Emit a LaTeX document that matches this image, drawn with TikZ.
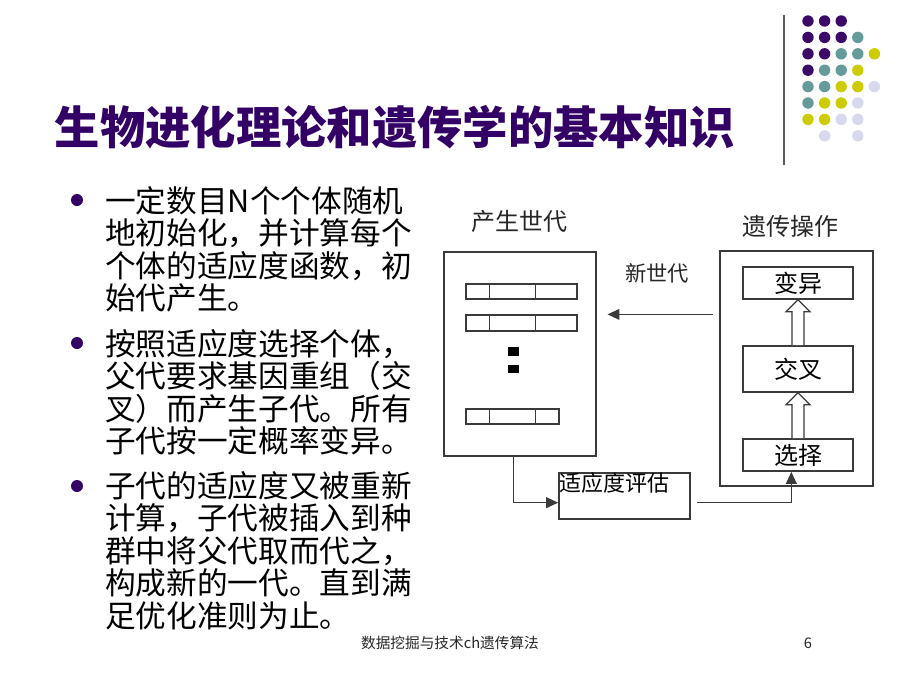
\documentclass[tikz,border=0pt]{standalone}
\usepackage{fontspec}
\setmainfont{Noto Sans CJK SC}
\usetikzlibrary{positioning,arrows.meta,calc}

\definecolor{titlepurple}{HTML}{330066}
\definecolor{dotpurple}{HTML}{3A0A66}
\definecolor{dotteal}{HTML}{669B9B}
\definecolor{dotyellow}{HTML}{CCCC00}
\definecolor{dotlilac}{HTML}{D8D8EE}
\definecolor{linegray}{HTML}{3A3A3A}
\def\px{0.75pt}

\tikzset{
  box/.style={draw=linegray, line width=1.2pt, inner sep=0pt, fill=white},
  genebar/.style={box, line width=0.9pt},
  conn/.style={draw=linegray, line width=1.2pt, -{Triangle[length=9pt,width=8pt]}},
  lbl/.style={inner sep=0pt, text=black!85},
  bodytext/.style={inner sep=0pt, anchor=north west, align=left,
    font=\fontsize{23}{24.4}\selectfont},
}

% hollow arrow between two stacked boxes
\newcommand{\hollowup}[2]{%
  \draw[linegray, line width=0.9pt, fill=white]
    ($(#1.north)+(-6,0)$) -- ($(#2.south)+(-6,12)$) -- ($(#2.south)+(-12,12)$)
    -- (#2.south) -- ($(#2.south)+(12,12)$) -- ($(#2.south)+(6,12)$)
    -- ($(#1.north)+(6,0)$);}

\begin{document}
\begin{tikzpicture}[x=0.75pt, y=-0.75pt]
    \useasboundingbox (0,0) rectangle (900,675);
    \fill[white] (0,0) rectangle (900,675);

    % Decoratie rechtsboven
    \draw[black!65, line width=1.5pt] (784,15) -- (784,165);
    \foreach \c/\r in {0/0,1/0,2/0,0/1,1/1,2/1,0/2,1/2,0/3}
        \fill[dotpurple] (808+16.6*\c, 21+16.4*\r) circle[radius=5.7];
    \foreach \c/\r in {3/1,2/2,3/2,1/3,2/3,0/4,1/4,0/5}
        \fill[dotteal] (808+16.6*\c, 21+16.4*\r) circle[radius=5.7];
    \foreach \c/\r in {4/2,3/3,2/4,3/4,1/5,2/5,0/6,1/6}
        \fill[dotyellow] (808+16.6*\c, 21+16.4*\r) circle[radius=5.7];
    \foreach \c/\r in {4/4,3/5,2/6,3/6,1/7,3/7}
        \fill[dotlilac] (808+16.6*\c, 21+16.4*\r) circle[radius=5.7];

    % Titel
    \node[inner sep=0pt, text=titlepurple, font=\fontsize{34}{36}\selectfont\bfseries]
        (title) at (395,127) {生物进化理论和遗传学的基本知识};

    % Opsomming
    \foreach \y in {200,343,486}
        \fill[titlepurple] (77,\y) circle[radius=6];
    \node[bodytext] (pointa) at (105,186) {一定数目N个个体随机\\地初始化，并计算每个\\个体的适应度函数，初\\始代产生。};
    \node[bodytext] (pointb) at (105,329) {按照适应度选择个体，\\父代要求基因重组（交\\叉）而产生子代。所有\\子代按一定概率变异。};
    \node[bodytext] (pointc) at (105,471) {子代的适应度又被重新\\计算，子代被插入到种\\群中将父代取而代之，\\构成新的一代。直到满\\足优化准则为止。};

    % Populatie
    \node[lbl, font=\fontsize{18}{20}\selectfont] (poplabel) at (519,221) {产生世代};
    \node[box, minimum width=152*\px, minimum height=204*\px] (pop) at (520,354) {};
    \node[genebar, minimum width=111*\px, minimum height=15*\px] (bara) at (521.5,291.5) {};
    \node[genebar, minimum width=111*\px, minimum height=16*\px] (barb) at (521.5,323) {};
    \node[genebar, minimum width=93*\px, minimum height=15*\px] (barc) at (512.5,416.5) {};
    \foreach \b in {bara,barb,barc} {
        \draw[linegray, line width=0.9pt] ($(\b.north west)+(24,0)$) -- ($(\b.south west)+(24,0)$);
        \draw[linegray, line width=0.9pt] ($(\b.north west)+(70,0)$) -- ($(\b.south west)+(70,0)$);
    }
    \fill[black] (508,347) rectangle (519,356);
    \fill[black] (508,365) rectangle (519,373);

    % Genetische operaties
    \node[lbl, font=\fontsize{18}{20}\selectfont] (opslabel) at (790,226) {遗传操作};
    \node[box, minimum width=153*\px, minimum height=235*\px] (ops) at (796.5,368.5) {};
    \node[box, minimum width=110*\px, minimum height=32*\px, font=\fontsize{18}{20}\selectfont] (mut) at (798,283) {变异};
    \node[box, minimum width=110*\px, minimum height=46*\px, font=\fontsize{18}{20}\selectfont] (cross) at (798,369) {交叉};
    \node[box, minimum width=110*\px, minimum height=32*\px, font=\fontsize{18}{20}\selectfont] (sel) at (798,455) {选择};
    \hollowup{cross}{mut}
    \hollowup{sel}{cross}

    % Fitness
    \node[box, minimum width=131*\px, minimum height=46*\px,
        label={[anchor=north west, inner sep=0.5pt, font=\fontsize{16.5}{18}\selectfont]north west:适应度评估}]
        (fit) at (624.5,496) {};

    % Verbindingen
    \node[lbl, font=\fontsize{16}{18}\selectfont] (newgen) at (657,273) {新世代};
    \draw[conn, shorten <=5pt, shorten >=8pt] (ops.west |- barb.north) -- (pop.east |- barb.north);
    \draw[conn] ([xshift=-5pt]pop.south) |- ([yshift=-5pt]fit.west);
    \draw[conn, shorten <=5pt] ([yshift=-5pt]fit.east) -| ([xshift=-5pt]sel.south);

    % Voettekst
    \node[lbl, font=\fontsize{11}{13}\selectfont] (footer) at (450,643) {数据挖掘与技术ch遗传算法};
    \node[lbl, font=\fontsize{11}{13}\selectfont] (pagenr) at (808,643) {6};
\end{tikzpicture}
\end{document}
